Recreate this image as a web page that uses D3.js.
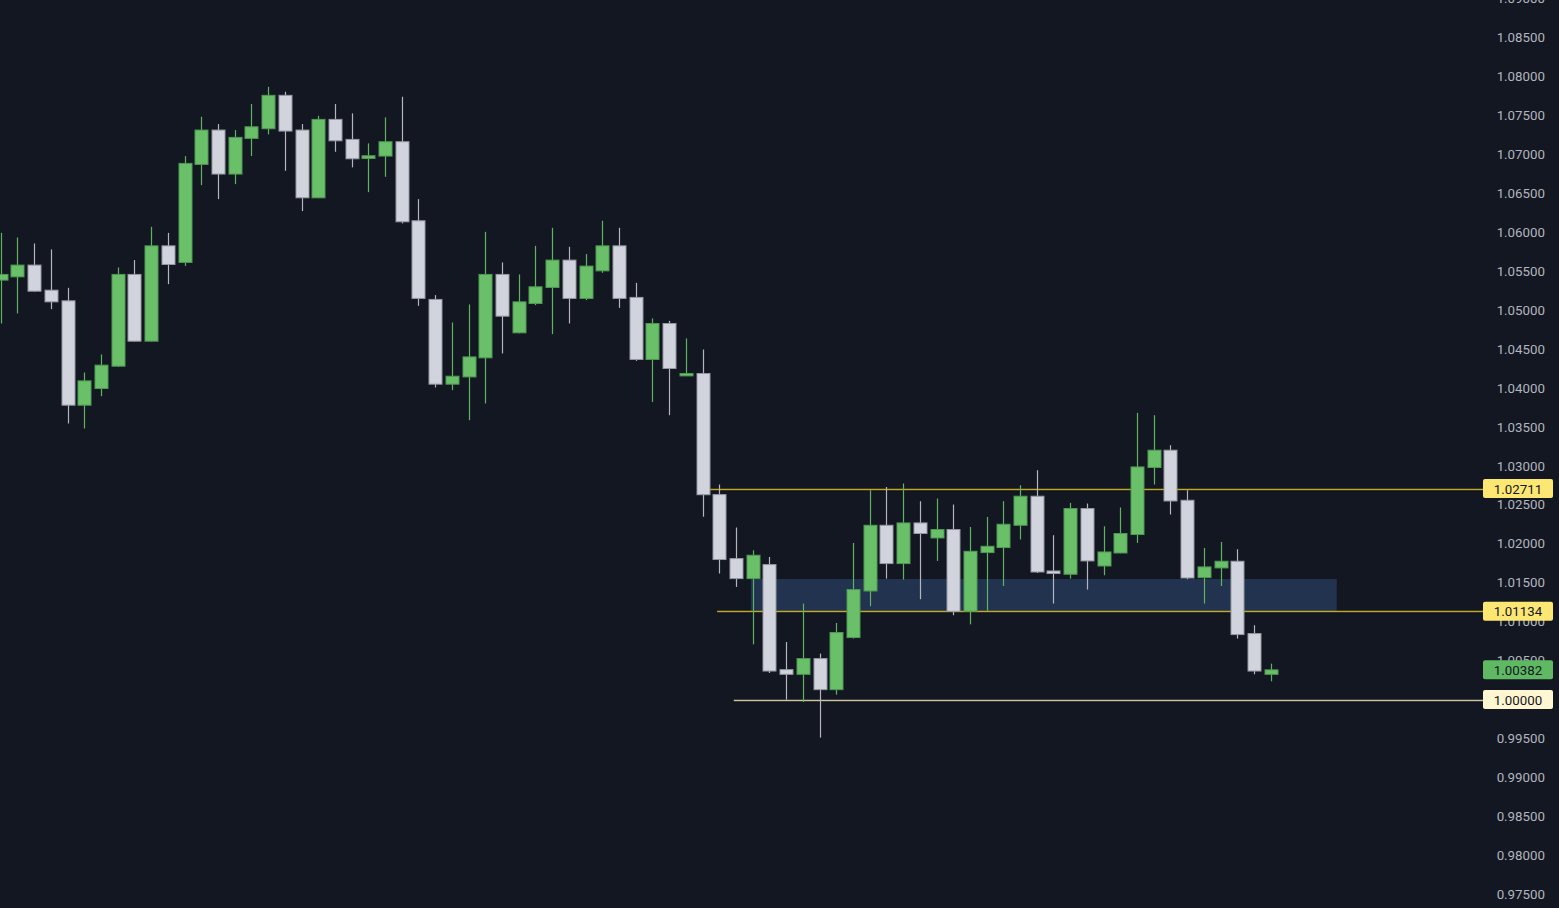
<!DOCTYPE html>
<html>
<head>
<meta charset="utf-8">
<script src="https://cdn.jsdelivr.net/npm/d3@7"></script>
<style>
  html, body { margin: 0; padding: 0; background: #131722; overflow: hidden; }
  svg { display: block; }
</style>
</head>
<body>
<svg id="chart" width="1559" height="908"></svg>
<script>
// ---- DATA ----
const opens  = [1.05387,1.05429,1.05580,1.05258,1.05121,1.03781,1.03995,1.04282,1.05460,1.04603,
                1.05827,1.05614,1.06873,1.07314,1.06749,1.07207,1.07331,1.07760,1.07314,1.06444,
                1.07451,1.07194,1.06950,1.06980,1.07164,1.06149,1.05139,1.04051,1.04144,1.04389,
                1.05460,1.04710,1.05087,1.05293,1.05644,1.05152,1.05506,1.05827,1.05165,1.04368,
                1.04830,1.04157,1.04188,1.02633,1.01811,1.01554,1.01734,1.00385,1.00325,1.00527,
                1.00128,1.00797,1.01395,1.02239,1.01747,1.02269,1.02076,1.02184,1.01134,1.01888,
                1.01953,1.02239,1.02612,1.01652,1.01610,1.02454,1.01716,1.01883,1.02120,1.02981,
                1.03203,1.02560,1.01567,1.01691,1.01777,1.00848,1.00325];
const highs  = [1.05994,1.05935,1.05858,1.05781,1.05288,1.04201,1.04432,1.05550,1.05644,1.06072,
                1.05994,1.06980,1.07485,1.07391,1.07314,1.07648,1.07870,1.07806,1.07391,1.07497,
                1.07648,1.07528,1.07143,1.07477,1.07742,1.06427,1.05194,1.04843,1.05075,1.06007,
                1.05614,1.05460,1.05827,1.06059,1.05815,1.05721,1.06149,1.06059,1.05352,1.04895,
                1.04864,1.04638,1.04496,1.02762,1.02210,1.01918,1.01832,1.00740,1.01233,1.00591,
                1.00984,1.02012,1.02689,1.02731,1.02775,1.02548,1.02582,1.02505,1.02217,1.02346,
                1.02548,1.02753,1.02946,1.02111,1.02526,1.02518,1.02226,1.02467,1.03682,1.03652,
                1.03267,1.02689,1.01948,1.02025,1.01931,1.00955,1.00462];
const lows   = [1.04830,1.04959,1.05240,1.05014,1.03546,1.03482,1.03896,1.04275,1.04600,1.04600,
                1.05335,1.05570,1.06607,1.06427,1.06620,1.06980,1.07259,1.06791,1.06273,1.06440,
                1.07035,1.06835,1.06517,1.06714,1.06115,1.05057,1.04008,1.03974,1.03588,1.03803,
                1.04445,1.04705,1.05066,1.04693,1.04830,1.05130,1.05481,1.05031,1.04350,1.03823,
                1.03652,1.04157,1.02348,1.01619,1.01447,1.00710,1.00342,1.00000,0.99969,0.99512,
                1.00064,1.00784,1.01199,1.01554,1.01542,1.01289,1.01781,1.01083,1.00967,1.01134,
                1.01459,1.02056,1.01626,1.01233,1.01554,1.01413,1.01597,1.01880,1.02012,1.02762,
                1.02377,1.01545,1.01233,1.01459,1.00784,1.00325,1.00235];
const closes = [1.05460,1.05580,1.05245,1.05108,1.03781,1.04093,1.04295,1.05460,1.04603,1.05827,
                1.05588,1.06886,1.07314,1.06749,1.07220,1.07356,1.07760,1.07301,1.06444,1.07451,
                1.07176,1.06945,1.06984,1.07164,1.06136,1.05152,1.04051,1.04153,1.04401,1.05460,
                1.04924,1.05108,1.05301,1.05644,1.05152,1.05567,1.05827,1.05152,1.04368,1.04830,
                1.04252,1.04188,1.02631,1.01799,1.01554,1.01854,1.00367,1.00325,1.00527,1.00128,
                1.00861,1.01413,1.02239,1.01747,1.02269,1.02133,1.02184,1.01134,1.01905,1.01969,
                1.02252,1.02612,1.01639,1.01619,1.02454,1.01781,1.01896,1.02133,1.02988,1.03203,
                1.02551,1.01562,1.01704,1.01777,1.00835,1.00367,1.00382];

// price axis ticks
const tickValues = [0.975,0.980,0.985,0.990,0.995,1.000,1.005,1.010,1.015,1.020,1.025,1.030,
                    1.035,1.040,1.045,1.050,1.055,1.060,1.065,1.070,1.075,1.080,1.085,1.090];

// horizontal levels: price, start (candle index), label style
const levelPrices = [1.02711, 1.01134, 1.00000];
const levelStarts = [42.27, 42.87, 43.87];
const levelKinds  = ["yellow", "yellow", "pale"];

// zone (time from/to as candle index, price top/bottom)
const zoneFrom = 44.89, zoneTo = 79.95;
const zoneTop = 1.01549, zoneBottom = 1.01134;

// last price
const lastPrice = 1.00382;

// ---- DRAW ----
const W = 1559, H = 908;
const svg = d3.select("#chart");
svg.append("rect").attr("width", W).attr("height", H).attr("fill", "#131722");

const candles = opens.map((o, i) => ({ i, o, h: highs[i], l: lows[i], c: closes[i] }));

const x = d3.scaleLinear().domain([0, 76]).range([0.75, 1270.7]);
const y = d3.scaleLinear().domain([0.975, 1.085]).range([894.3, 37.7]);
const plotRight = 1483;

// zone
svg.append("rect")
  .attr("x", x(zoneFrom)).attr("y", y(zoneTop))
  .attr("width", x(zoneTo) - x(zoneFrom)).attr("height", y(zoneBottom) - y(zoneTop))
  .attr("fill", "#223350");

// level lines
const lineColor = { yellow: "#bfa92c", pale: "#cbc4a0" };
levelPrices.forEach((p, k) => {
  const yy = Math.round(y(p)) + 0.5;
  svg.append("line")
    .attr("x1", x(levelStarts[k])).attr("x2", plotRight)
    .attr("y1", yy + 1.2).attr("y2", yy + 1.2)
    .attr("stroke", "#0b0d12").attr("stroke-width", 1);
  svg.append("line")
    .attr("x1", x(levelStarts[k])).attr("x2", plotRight)
    .attr("y1", yy).attr("y2", yy)
    .attr("stroke", lineColor[levelKinds[k]]).attr("stroke-width", 1.4);
});

// candles
const GREEN = "#6abf69", GREEN_EDGE = "#4f9a52", GREEN_WICK = "#5fb35f";
const WHITE = "#d1d4dc", WHITE_EDGE = "#9598a1", WHITE_WICK = "#b2b5be";
const bw = 13;
const g = svg.append("g");
candles.forEach(d => {
  const up = d.c >= d.o;
  const cx = Math.round(x(d.i)) + 0.5;
  g.append("line")
    .attr("x1", cx).attr("x2", cx)
    .attr("y1", y(d.h)).attr("y2", y(d.l))
    .attr("stroke", up ? GREEN_WICK : WHITE_WICK).attr("stroke-width", 1.2);
  const top = y(Math.max(d.o, d.c)), bot = y(Math.min(d.o, d.c));
  const hh = Math.max(bot - top, 2);
  g.append("rect")
    .attr("x", cx - bw / 2).attr("y", top)
    .attr("width", bw).attr("height", hh)
    .attr("fill", up ? GREEN : WHITE)
    .attr("stroke", up ? GREEN_EDGE : WHITE_EDGE).attr("stroke-width", 1);
});

// price axis labels
const fmt = d3.format(".5f");
svg.append("g").selectAll("text").data(tickValues).join("text")
  .attr("x", 1545).attr("y", d => y(d))
  .attr("text-anchor", "end").attr("dominant-baseline", "central")
  .attr("font-family", "Roboto, 'Open Sans', sans-serif").attr("font-size", 13.3)
  .attr("fill", "#b2b5be")
  .text(d => fmt(d));

// price label boxes
const boxFill = { yellow: "#fde773", pale: "#fff7d1", green: "#5fb862" };
function priceBox(p, kind) {
  const yy = y(p);
  svg.append("rect")
    .attr("x", 1483).attr("y", yy - 9.5).attr("width", 70).attr("height", 19)
    .attr("rx", 2).attr("fill", boxFill[kind]);
  svg.append("text")
    .attr("x", 1518).attr("y", yy + 0.5)
    .attr("text-anchor", "middle").attr("dominant-baseline", "central")
    .attr("font-family", "Roboto, 'Open Sans', sans-serif").attr("font-size", 13.3)
    .attr("fill", "#131722")
    .text(fmt(p));
}
levelPrices.forEach((p, k) => priceBox(p, levelKinds[k]));
priceBox(lastPrice, "green");
</script>
</body>
</html>
